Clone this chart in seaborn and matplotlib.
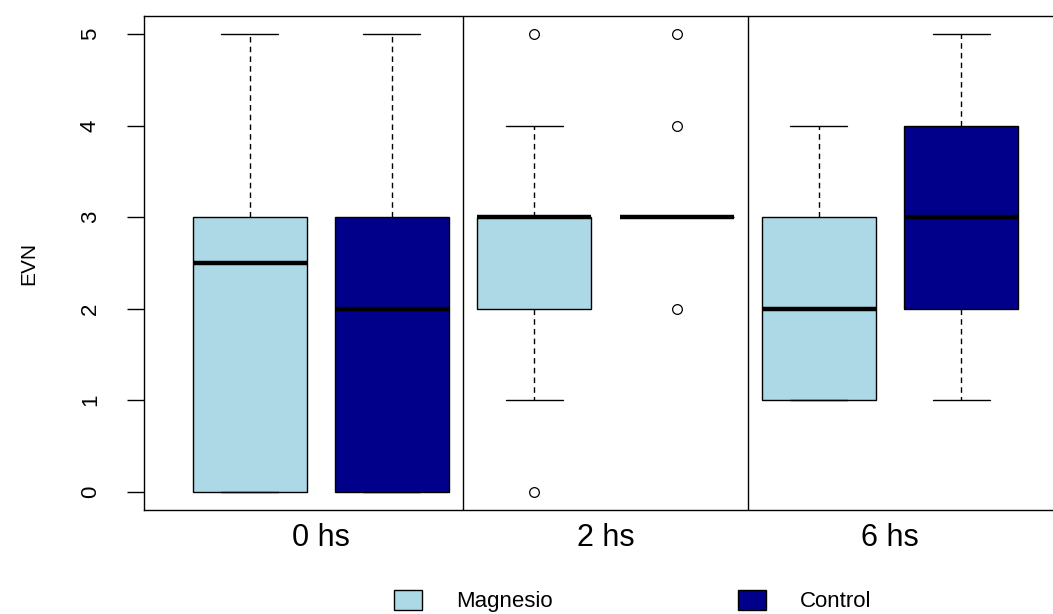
import pandas as pd
import matplotlib
matplotlib.use('Agg')
import matplotlib.pyplot as plt
import seaborn as sns

# tiempos y grupos
tiempos = ['0 hs', '2 hs', '6 hs']
grupos = ['Magnesio', 'Control']
colores = {'Magnesio': 'lightblue', 'Control': 'darkblue'}

# valores de EVN por grupo
evn_mg_0 = [0, 0, 0, 0, 2, 3, 3, 3, 4, 5]
evn_ct_0 = [0, 0, 0, 0, 2, 2, 3, 3, 4, 5]
evn_mg_2 = [0, 1, 2, 2, 2, 3, 3, 3, 3, 3, 3, 4, 5]
evn_ct_2 = [2, 3, 3, 3, 3, 3, 3, 3, 4, 5]
evn_mg_6 = [1, 1, 1, 2, 2, 3, 3, 4]
evn_ct_6 = [1, 2, 2, 3, 3, 4, 4, 5]

series = [
    ('0 hs', 'Magnesio', evn_mg_0), ('0 hs', 'Control', evn_ct_0),
    ('2 hs', 'Magnesio', evn_mg_2), ('2 hs', 'Control', evn_ct_2),
    ('6 hs', 'Magnesio', evn_mg_6), ('6 hs', 'Control', evn_ct_6),
]

filas = []
for t, g, vals in series:
    for v in vals:
        filas.append({'caja': t + ' ' + g, 'grupo': g, 'EVN': v})
data = pd.DataFrame(filas)
orden = [t + ' ' + g for t, g, _ in series]

sns.set_style('white')
plt.rcParams['font.family'] = ['Liberation Sans', 'DejaVu Sans']
plt.rcParams['text.color'] = 'black'
plt.rcParams['axes.labelcolor'] = 'black'
plt.rcParams['xtick.color'] = 'black'
plt.rcParams['ytick.color'] = 'black'

fig = plt.figure(figsize=(10.53, 6.14), dpi=100)
ax = fig.add_axes([144 / 1053, 1 - 510 / 614, 924 / 1053, 494 / 614])

sns.boxplot(data=data, x='caja', y='EVN', hue='grupo', order=orden,
            hue_order=grupos, palette=colores, dodge=False, width=0.8,
            saturation=1, linecolor='black', linewidth=1, ax=ax,
            whiskerprops={'linestyle': (0, (4, 3)), 'linewidth': 1},
            capprops={'linewidth': 1},
            medianprops={'linewidth': 3.2, 'color': 'black'},
            flierprops={'marker': 'o', 'markerfacecolor': 'none',
                        'markeredgecolor': 'black', 'markersize': 7,
                        'markeredgewidth': 0.9})

# separadores entre tiempos
for x in [1.5, 3.5]:
    ax.axvline(x, color='black', linewidth=1)

ax.set_xlim(-0.742, 5.75)
ax.set_ylim(-0.2, 5.2)
ax.set_xticks([0.5, 2.5, 4.5])
ax.set_xticklabels(tiempos)
ax.set_xlabel('')
ax.set_ylabel('EVN', fontsize=15, labelpad=30)
ax.set_yticks(range(6))
ax.tick_params(axis='x', length=0, pad=9, labelsize=22)
ax.tick_params(axis='y', length=12, width=1, pad=19, labelsize=16,
               left=True)
for lab in ax.get_yticklabels():
    lab.set_rotation(90)
    lab.set_va('center')

for s in ax.spines.values():
    s.set_color('black')
    s.set_linewidth(1)

sns.move_legend(ax, 'center left', bbox_to_anchor=(383 / 1053, 1 - 601 / 614),
                bbox_transform=fig.transFigure, ncol=2, frameon=False,
                title=None, fontsize=16, borderpad=0, handlelength=1.26,
                handleheight=1.0, handletextpad=1.55, columnspacing=8.3)

fig.savefig('out.png', dpi=100)
